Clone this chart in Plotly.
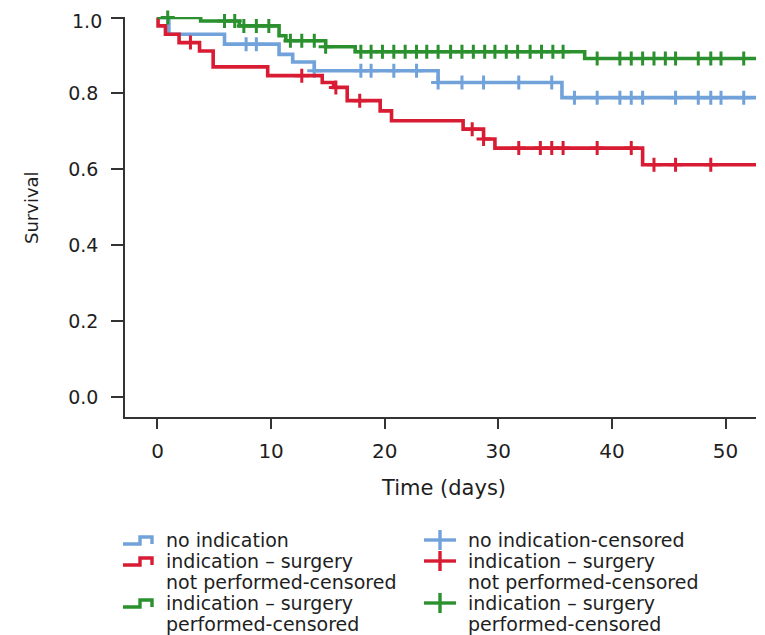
import numpy as np
import plotly.graph_objects as go

# ---------------- data ----------------
# Kaplan-Meier steps: event times (days) and survival after each event
blue_t = [0, 1.0, 5.9, 10.7, 11.9, 13.8, 24.7, 35.6]
blue_s = [1.0, 0.956, 0.930, 0.903, 0.883, 0.860, 0.829, 0.789]
blue_cens = [7.8, 8.7, 13.8, 17.9, 18.8, 20.8, 22.8, 24.7, 26.8, 28.7, 31.8, 34.7,
             36.7, 38.7, 40.7, 41.7, 42.7, 45.6, 47.6, 48.7, 49.6, 51.6]

red_t = [0, 0.05, 0.7, 1.9, 3.7, 4.9, 9.7, 14.5, 15.5, 16.7, 19.6, 20.6, 26.9, 28.7, 29.7, 42.7]
red_s = [1.0, 0.978, 0.956, 0.934, 0.912, 0.870, 0.847, 0.829, 0.816, 0.781, 0.754,
         0.728, 0.706, 0.680, 0.656, 0.612]
red_cens = [2.9, 12.7, 15.7, 17.8, 27.7, 28.7, 31.8, 33.7, 34.7, 35.7, 38.7, 41.7,
            43.7, 45.6, 48.7]

green_t = [0, 3.8, 7.2, 10.7, 11.3, 14.8, 17.4, 37.6]
green_s = [1.0, 0.991, 0.978, 0.952, 0.939, 0.923, 0.910, 0.892]
green_cens = [0.9, 5.9, 6.8, 7.6, 8.7, 9.8, 11.7, 12.7, 13.8, 14.8, 17.9, 18.8, 19.8,
              20.8, 21.8, 22.8, 23.7, 24.7, 25.8, 26.8, 27.8, 28.8, 29.7, 30.7, 31.7,
              32.8, 33.8, 34.8, 35.7, 38.7, 40.7, 41.7, 42.7, 43.7, 44.7, 45.6, 47.6,
              48.7, 49.6, 51.6]

follow_end = 52.7

x_ticks = [0, 10, 20, 30, 40, 50]
y_ticks = [0.0, 0.2, 0.4, 0.6, 0.8, 1.0]

colors = {"blue": "#72a2da", "red": "#d81c33", "green": "#2a912e"}

legend_left = ["no indication", "indication \u2013 surgery", "not performed-censored",
               "indication \u2013 surgery", "performed-censored"]
legend_right = ["no indication-censored", "indication \u2013 surgery", "not performed-censored",
                "indication \u2013 surgery", "performed-censored"]
legend_icon_rows = [(0, "blue"), (1, "red"), (3, "green")]

# ---------------- layout geometry ----------------
# the page body adds an 8px margin; figure is sized so the page fits the window
OFF = 8
W, H = 765 - OFF, 635 - OFF
L, R, T, B = 117, 9, 9, 218
PW, PH = W - L - R, H - T - B
FONT = "DejaVu Sans"
TXT = "#1e1e1e"
AX = "#333333"


def px(xs):
    """screen x (px) -> paper"""
    return (xs - OFF - L) / PW


def py(ys):
    """screen y (px) -> paper"""
    return (H - B - (ys - OFF)) / PH


fig = go.Figure()

series = [
    ("blue", blue_t, blue_s, blue_cens),
    ("red", red_t, red_s, red_cens),
    ("green", green_t, green_s, green_cens),
]

for key, t, s, cens in series:
    fig.add_trace(go.Scatter(
        x=list(t) + [follow_end], y=list(s) + [s[-1]],
        mode="lines", line=dict(color=colors[key], width=3.6, shape="hv"),
        cliponaxis=False, showlegend=False, hoverinfo="skip"))
    ta = np.array(t)
    sa = np.array(s)
    idx = np.searchsorted(ta, np.array(cens), side="right") - 1
    fig.add_trace(go.Scatter(
        x=cens, y=sa[idx], mode="markers",
        marker=dict(symbol="cross-thin", size=10, color=colors[key],
                    line=dict(color=colors[key], width=3)),
        cliponaxis=False, showlegend=False, hoverinfo="skip"))

# top tick label is drawn as an annotation (nudged) so it is not cut at the page edge
y_ticktext = [f"{v:.1f}" for v in y_ticks]
top_label = y_ticktext[-1]
y_ticktext[-1] = ""

fig.update_xaxes(range=[-2.86, 52.68], tickvals=x_ticks, ticktext=[str(v) for v in x_ticks],
                 showline=True, linecolor=AX, linewidth=1.5, ticks="outside",
                 ticklen=10, tickwidth=1.5, tickcolor=AX, showgrid=False, zeroline=False,
                 tickfont=dict(family=FONT, size=20, color=TXT), ticklabelstandoff=5,
                 automargin=False)
fig.update_yaxes(range=[-0.0526, 1.0015], tickvals=y_ticks, ticktext=y_ticktext,
                 showline=True, linecolor=AX, linewidth=1.5, ticks="outside",
                 ticklen=12, tickwidth=1.5, tickcolor=AX, showgrid=False, zeroline=False,
                 tickfont=dict(family=FONT, size=19, color=TXT), ticklabelstandoff=9,
                 automargin=False)

ann = []
ann.append(dict(text=top_label, x=px(104), y=y_ticks[-1], xref="paper", yref="y",
                yshift=-3, showarrow=False, xanchor="right", yanchor="middle",
                font=dict(family=FONT, size=19, color=TXT)))
ann.append(dict(text="Time (days)", x=px(443), y=py(488), xref="paper", yref="paper",
                showarrow=False, xanchor="center", yanchor="middle",
                font=dict(family=FONT, size=21, color=TXT)))
ann.append(dict(text="Survival", x=px(31), y=py(207), xref="paper", yref="paper",
                showarrow=False, xanchor="center", yanchor="middle", textangle=-90,
                font=dict(family=FONT, size=18, color=TXT)))

row_y = [540, 561, 582, 603, 624]
for i, txt in enumerate(legend_left):
    ann.append(dict(text=txt, x=px(164), y=py(row_y[i]), xref="paper", yref="paper",
                    showarrow=False, xanchor="left", yanchor="middle",
                    font=dict(family=FONT, size=19, color=TXT)))
for i, txt in enumerate(legend_right):
    ann.append(dict(text=txt, x=px(466), y=py(row_y[i]), xref="paper", yref="paper",
                    showarrow=False, xanchor="left", yanchor="middle",
                    font=dict(family=FONT, size=19, color=TXT)))

shapes = []
for r, key in legend_icon_rows:
    yc = row_y[r]
    path = (f"M {px(123)},{py(yc + 4)} L {px(140)},{py(yc + 4)} L {px(140)},{py(yc - 3)} "
            f"L {px(152)},{py(yc - 3)} L {px(152)},{py(yc + 4)}")
    shapes.append(dict(type="path", path=path, xref="paper", yref="paper",
                       line=dict(color=colors[key], width=3.4)))
    shapes.append(dict(type="line", x0=px(424), x1=px(456), y0=py(yc), y1=py(yc),
                       xref="paper", yref="paper", line=dict(color=colors[key], width=3.4)))
    shapes.append(dict(type="line", x0=px(440), x1=px(440), y0=py(yc - 10), y1=py(yc + 10),
                       xref="paper", yref="paper", line=dict(color=colors[key], width=3.4)))

fig.update_layout(width=W, height=H, margin=dict(l=L, r=R, t=T, b=B, pad=0),
                  plot_bgcolor="white", paper_bgcolor="white",
                  annotations=ann, shapes=shapes, showlegend=False)

fig.write_html("out.html")
